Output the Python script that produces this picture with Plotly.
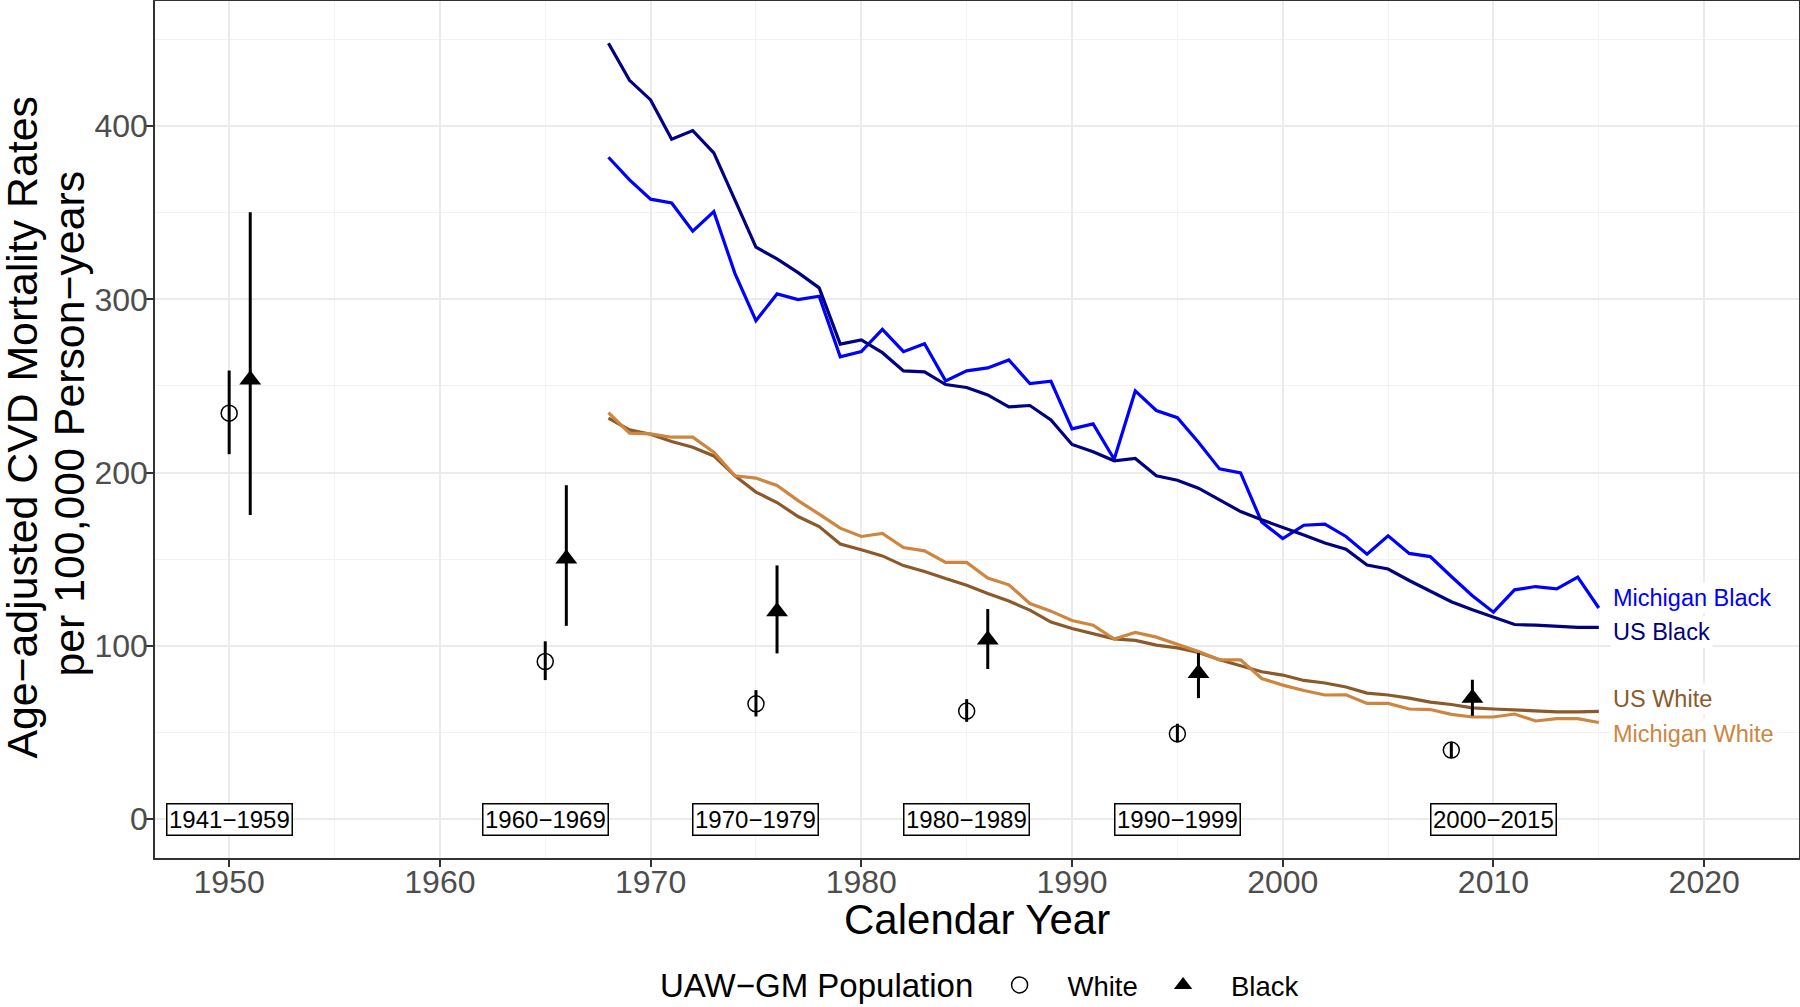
import plotly.graph_objects as go

# ---------------- data ----------------
line_years = list(range(1968, 2016))

us_black = [447.8, 426.4, 415.1, 392.4, 397.4, 384.5, 357.4, 330.1, 323.3, 315.4, 306.6, 274.1,
            276.6, 269.2, 258.7, 258.1, 250.8, 249.1, 244.8, 237.9, 238.7, 230.4, 216.2, 212.0,
            206.8, 208.1, 198.1, 195.6, 191.0, 184.2, 177.5, 172.7, 168.5, 163.9, 159.3, 155.8,
            146.6, 144.3, 137.7, 131.3, 125.4, 120.8, 116.6, 112.3, 111.9, 111.1, 110.6, 110.6]

michigan_black = [382.0, 368.9, 357.8, 355.6, 339.3, 350.6, 315.0, 287.7, 303.1, 299.8, 301.8, 266.8,
                  269.8, 282.7, 269.8, 274.3, 252.9, 258.7, 260.4, 265.0, 251.4, 252.7, 225.2, 228.1,
                  207.7, 247.1, 235.8, 231.7, 217.5, 202.1, 199.8, 171.4, 161.9, 169.6, 170.2, 163.1,
                  152.9, 163.5, 153.3, 151.5, 140.0, 128.9, 119.4, 132.3, 134.2, 132.9, 139.6, 121.8]

us_white = [231.4, 224.6, 222.1, 217.9, 214.6, 209.6, 198.1, 188.7, 182.7, 174.6, 168.8, 158.7,
            155.4, 151.9, 146.3, 142.9, 138.8, 135.0, 130.2, 125.8, 120.6, 113.7, 110.0, 107.1,
            104.0, 103.1, 100.4, 98.8, 96.1, 91.9, 88.5, 85.0, 83.1, 80.0, 78.5, 76.2,
            72.7, 71.6, 69.8, 67.5, 66.1, 64.2, 63.5, 62.9, 62.3, 61.9, 61.9, 62.1]

michigan_white = [234.6, 222.7, 222.3, 220.4, 220.4, 211.8, 198.1, 196.8, 192.5, 183.8, 176.0, 167.9,
                  163.1, 164.8, 156.7, 154.8, 148.1, 148.1, 139.1, 135.2, 124.4, 120.0, 114.6, 111.9,
                  103.9, 107.7, 105.0, 101.0, 96.7, 91.9, 91.9, 81.1, 77.3, 74.2, 71.6, 71.7,
                  66.7, 66.7, 63.5, 63.2, 60.4, 58.9, 58.9, 60.6, 56.6, 57.9, 57.9, 55.7]

white_years = [1950, 1965, 1975, 1985, 1995, 2008]
white_rate = [234.3, 90.9, 66.5, 62.3, 49.2, 39.8]
white_lo = [210.6, 80.2, 59.2, 56.1, 44.2, 35.2]
white_hi = [258.9, 102.6, 74.4, 69.2, 55.0, 44.4]

black_years = [1951, 1966, 1976, 1986, 1996, 2009]
black_rate = [253.5, 150.3, 119.8, 103.5, 84.2, 69.8]
black_lo = [175.5, 111.5, 95.6, 86.6, 69.8, 59.6]
black_hi = [350.3, 192.7, 146.4, 121.2, 95.8, 80.4]

period_labels = ["1941−1959", "1960−1969", "1970−1979", "1980−1989", "1990−1999", "2000−2015"]
period_centers = [1950, 1965, 1975, 1985, 1995, 2010]

series_names = ["Michigan Black", "US Black", "US White", "Michigan White"]
series_colors = ["#0000FF", "#000080", "#8B5A2B", "#CD853F"]
series_values = [michigan_black, us_black, us_white, michigan_white]
label_y = [127.5, 107.7, 69.2, 49.2]

x_ticks = [1950, 1960, 1970, 1980, 1990, 2000, 2010, 2020]
x_minor = [1945, 1955, 1965, 1975, 1985, 1995, 2005, 2015]
y_ticks = [0, 100, 200, 300, 400]
y_minor = [50, 150, 250, 350, 450]

FONT = "Liberation Sans, Arial, sans-serif"
NB = "\u00a0"

fig = go.Figure()

for name, col, vals in zip(series_names, series_colors, series_values):
    fig.add_trace(go.Scatter(x=line_years, y=vals, mode="lines", name=name,
                             line=dict(color=col, width=3.2), showlegend=False))

fig.add_trace(go.Scatter(
    x=white_years, y=white_rate, mode="markers", name=NB * 3 + "White" + NB * 2,
    marker=dict(symbol="circle-open", size=16, color="black", line=dict(width=1.5, color="black")),
    error_y=dict(type="data", symmetric=False,
                 array=[h - v for h, v in zip(white_hi, white_rate)],
                 arrayminus=[v - l for v, l in zip(white_rate, white_lo)],
                 color="black", thickness=3, width=0)))

fig.add_trace(go.Scatter(
    x=black_years, y=black_rate, mode="markers", name=NB * 3 + "Black",
    marker=dict(symbol="triangle-up", size=19, color="black"),
    error_y=dict(type="data", symmetric=False,
                 array=[h - v for h, v in zip(black_hi, black_rate)],
                 arrayminus=[v - l for v, l in zip(black_rate, black_lo)],
                 color="black", thickness=3, width=0)))

annotations = []
for txt, xc in zip(period_labels, period_centers):
    annotations.append(dict(x=xc, y=0, xref="x", yref="y", text=txt, showarrow=False,
                            xanchor="center", yanchor="middle",
                            font=dict(family=FONT, size=24, color="black"),
                            bgcolor="white", bordercolor="black", borderwidth=1.5, borderpad=1.5))

for name, col, ly in zip(series_names, series_colors, label_y):
    annotations.append(dict(x=2015.55, y=ly, xref="x", yref="y", text=name, showarrow=False,
                            xanchor="left", yanchor="middle",
                            font=dict(family=FONT, size=23.5, color=col),
                            bgcolor="white", borderpad=2))

annotations.append(dict(x=0.5, y=-0.0715, xref="paper", yref="paper", text="Calendar Year",
                        showarrow=False, xanchor="center", yanchor="middle",
                        font=dict(family=FONT, size=42, color="black")))
annotations.append(dict(x=0, y=0.5022, xref="paper", yref="paper", xshift=-133,
                        text="Age−adjusted CVD Mortality Rates",
                        showarrow=False, xanchor="center", yanchor="middle", textangle=-90,
                        font=dict(family=FONT, size=42.8, color="black")))
annotations.append(dict(x=0, y=0.507, xref="paper", yref="paper", xshift=-86,
                        text="per 100,000 Person−years",
                        showarrow=False, xanchor="center", yanchor="middle", textangle=-90,
                        font=dict(family=FONT, size=42.8, color="black")))
# legend title
annotations.append(dict(x=0.30596, y=-0.1482, xref="paper", yref="paper", text="UAW−GM Population",
                        showarrow=False, xanchor="left", yanchor="middle",
                        font=dict(family=FONT, size=33, color="black")))

axis_common = dict(showgrid=True, gridcolor="#EBEBEB", gridwidth=2,
                   showline=True, mirror=True, linecolor="#333333", linewidth=1.5,
                   ticks="outside", ticklen=7, tickwidth=1.5, tickcolor="#333333",
                   tickfont=dict(family=FONT, size=32, color="#4D4D4D"), zeroline=False)

fig.update_layout(
    width=1800, height=1007,
    margin=dict(l=155, r=1, t=1, b=149, autoexpand=False),
    paper_bgcolor="white", plot_bgcolor="white",
    font=dict(family=FONT),
    annotations=annotations,
    legend=dict(orientation="h", x=0.5107, y=-0.1482, xanchor="left", yanchor="middle",
                font=dict(family=FONT, size=27.5, color="black"),
                itemwidth=40, bgcolor="rgba(0,0,0,0)"),
    xaxis=dict(range=[1946.48, 2024.5], tickmode="array", tickvals=x_ticks,
               minor=dict(tickmode="array", tickvals=x_minor,
                          showgrid=True, gridcolor="#F2F2F2", gridwidth=1, ticks=""),
               ticklabelstandoff=-12, **axis_common),
    yaxis=dict(range=[-22.5, 472.2], tickmode="array", tickvals=y_ticks,
               minor=dict(tickmode="array", tickvals=y_minor,
                          showgrid=True, gridcolor="#F2F2F2", gridwidth=1, ticks=""),
               ticklabelstandoff=-8, **axis_common),
)

fig.write_html("out.html", config={"displayModeBar": False},
               post_script="document.body.style.margin='0px';document.body.style.overflow='hidden';")
